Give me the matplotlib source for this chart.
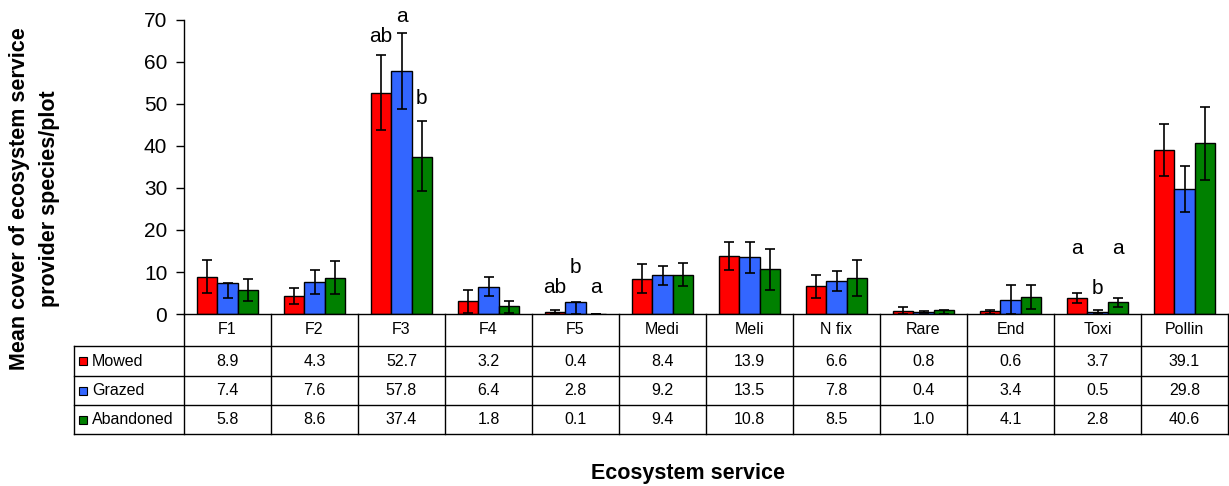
import numpy as np
import matplotlib.pyplot as plt
import matplotlib.transforms as mtransforms
from matplotlib.patches import Rectangle

plt.rcParams['font.family'] = ['Liberation Sans', 'DejaVu Sans']

services = ['F1', 'F2', 'F3', 'F4', 'F5', 'Medi', 'Meli', 'N fix', 'Rare', 'End', 'Toxi', 'Pollin']
treatments = ['Mowed', 'Grazed', 'Abandoned']
colors = ['#FF0000', '#3366FF', '#008000']

mowed = [8.9, 4.3, 52.7, 3.2, 0.4, 8.4, 13.9, 6.6, 0.8, 0.6, 3.7, 39.1]
grazed = [7.4, 7.6, 57.8, 6.4, 2.8, 9.2, 13.5, 7.8, 0.4, 3.4, 0.5, 29.8]
abandoned = [5.8, 8.6, 37.4, 1.8, 0.1, 9.4, 10.8, 8.5, 1.0, 4.1, 2.8, 40.6]

# error bars (lower, upper)
mowed_err_lo = [4.0, 1.9, 8.9, 3.0, 0.4, 3.3, 3.4, 2.8, 0.8, 0.5, 1.2, 6.2]
mowed_err_hi = [4.0, 1.9, 9.0, 2.6, 0.5, 3.4, 3.3, 2.8, 0.9, 0.4, 1.4, 6.1]
grazed_err_lo = [3.6, 2.9, 9.0, 2.2, 2.8, 2.3, 3.7, 2.3, 0.2, 3.4, 0.4, 5.4]
grazed_err_hi = [0.0, 2.9, 9.1, 2.3, 0.0, 2.3, 3.6, 2.4, 0.2, 3.6, 0.4, 5.4]
abandoned_err_lo = [2.8, 3.8, 8.0, 1.6, 0.0, 2.8, 5.0, 4.3, 0.9, 2.8, 1.1, 8.8]
abandoned_err_hi = [2.6, 3.9, 8.5, 1.2, 0.0, 2.7, 4.7, 4.4, 0.0, 2.9, 1.0, 8.8]

# significance letters: (service index, treatment index, label, y)
letters = [(2, 0, 'ab', 66.0), (2, 1, 'a', 70.8), (2, 2, 'b', 51.4),
           (4, 0, 'ab', 6.2), (4, 1, 'b', 11.0), (4, 2, 'a', 6.2),
           (10, 0, 'a', 15.5), (10, 1, 'b', 6.0), (10, 2, 'a', 15.5)]

series = [mowed, grazed, abandoned]
errs = [(mowed_err_lo, mowed_err_hi), (grazed_err_lo, grazed_err_hi),
        (abandoned_err_lo, abandoned_err_hi)]

W, H = 1229, 486
fig = plt.figure(figsize=(W / 100, H / 100), dpi=100)
ax_l, ax_r, ax_t, ax_b = 184, 1228, 20, 314
ax = fig.add_axes([ax_l / W, 1 - ax_b / H, (ax_r - ax_l) / W, (ax_b - ax_t) / H])

n = len(services)
x = np.arange(n)
bw = 0.234
for j, (vals, col) in enumerate(zip(series, colors)):
    pos = x + (j - 1) * bw
    ax.bar(pos, vals, width=bw, color=col, edgecolor='black', linewidth=1.0, zorder=2)
    ax.errorbar(pos, vals, yerr=[errs[j][0], errs[j][1]], fmt='none', ecolor='black',
                elinewidth=1.2, capsize=3.8, capthick=1.2, zorder=3)

for i, j, lab, yv in letters:
    ax.text(x[i] + (j - 1) * bw, yv, lab, ha='center', va='center', fontsize=15)

ax.set_xlim(-0.5, n - 0.5)
ax.set_ylim(0, 70)
ax.set_yticks(range(0, 71, 10))
ax.tick_params(axis='y', labelsize=15, length=6, width=1, direction='out', pad=6)
ax.tick_params(axis='x', bottom=False, labelbottom=False)
for s in ['top', 'right']:
    ax.spines[s].set_visible(False)
ax.spines['left'].set_linewidth(1)
ax.spines['bottom'].set_linewidth(1)

# data table under the axis
trans = mtransforms.blended_transform_factory(ax.transData, ax.transAxes)
ph = ax_b - ax_t
cw = (ax_r - ax_l) / n


def ay(py):
    return -(py - ax_b) / ph


x_left = -0.5 - (ax_l - 74) / cw
rows_px = [314, 346, 376, 405, 434]
lw = 1.0
for yp in rows_px[1:]:
    ax.plot([x_left, n - 0.5], [ay(yp)] * 2, color='black', lw=lw, transform=trans, clip_on=False)
for b in np.arange(-0.5, n, 1.0):
    ax.plot([b, b], [ay(314), ay(434)], color='black', lw=lw, transform=trans, clip_on=False)
ax.plot([x_left, x_left], [ay(346), ay(434)], color='black', lw=lw, transform=trans, clip_on=False)

fs_tab = 11.5
hy = ay((rows_px[0] + rows_px[1]) / 2)
for i, s in enumerate(services):
    ax.text(i, hy, s, ha='center', va='center', fontsize=fs_tab, transform=trans)

for r, (name, vals, col) in enumerate(zip(treatments, series, colors)):
    cy = ay((rows_px[r + 1] + rows_px[r + 2]) / 2)
    sq_w = 8 / cw
    sq_h = 8 / ph
    ax.add_patch(Rectangle((x_left + 5 / cw, cy - sq_h / 2), sq_w, sq_h, facecolor=col,
                           edgecolor='black', lw=0.8, transform=trans, clip_on=False))
    ax.text(x_left + 18 / cw, cy, name, ha='left', va='center', fontsize=fs_tab, transform=trans)
    for i, v in enumerate(vals):
        ax.text(i, cy, f'{v:.1f}', ha='center', va='center', fontsize=fs_tab, transform=trans)

fig.text(20 / W, 1 - 199 / H, 'Mean cover of ecosystem service', rotation=90,
         ha='center', va='center', fontsize=15.5, fontweight='bold')
fig.text(50 / W, 1 - 199 / H, 'provider species/plot', rotation=90,
         ha='center', va='center', fontsize=15.5, fontweight='bold')
fig.text(688 / W, 1 - 473 / H, 'Ecosystem service', ha='center', va='center',
         fontsize=15.5, fontweight='bold')

fig.savefig('out.png', dpi=100)
